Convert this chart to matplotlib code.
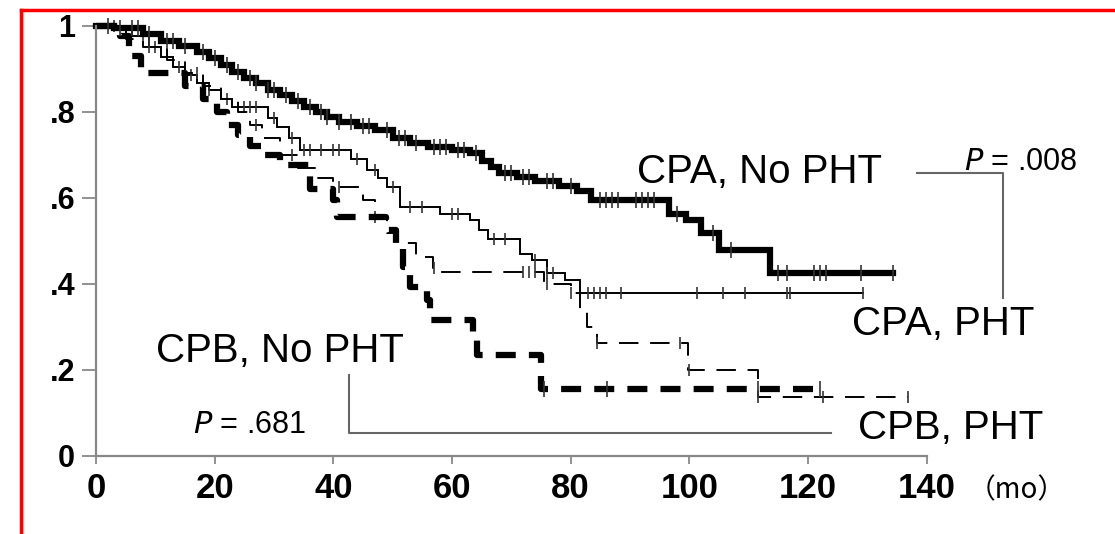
import numpy as np
import matplotlib
matplotlib.use("Agg")
import matplotlib.pyplot as plt
from matplotlib.lines import Line2D

plt.rcParams['font.family'] = ['Liberation Sans', 'DejaVu Sans']

# Kaplan-Meier curves: event times (months) and survival after each step
cpa_np_t = [0, 3, 8, 11, 14, 17, 19, 21, 23, 25, 27, 29, 31, 33, 35, 37, 39, 41, 44, 47,
            50, 53, 56, 60, 63, 65, 66.5, 68, 71, 74, 78, 81, 83.5, 96.5, 99.5, 102, 105, 113.6]
cpa_np_s = [1.0, 0.995, 0.98, 0.965, 0.952, 0.94, 0.925, 0.908, 0.893, 0.878, 0.866, 0.851,
            0.838, 0.825, 0.812, 0.8, 0.788, 0.776, 0.766, 0.757, 0.74, 0.728, 0.718, 0.71,
            0.703, 0.685, 0.671, 0.657, 0.648, 0.64, 0.628, 0.615, 0.594, 0.563, 0.548,
            0.517, 0.478, 0.424]
cpa_np_end = 134.4
cpa_np_cens = [2, 4, 6, 7, 9, 12, 13, 15, 18, 20, 22, 24, 26, 27, 29, 30, 32, 34, 36, 38, 39,
               41, 43, 45, 46, 49, 51, 52, 54, 57, 58, 59, 61, 62, 64, 69, 70, 72, 73, 76, 77,
               80, 85, 86, 87, 88, 91, 92, 93, 94, 98, 104, 107, 115, 116.5, 121, 122, 123,
               129, 134.4]

cpa_p_t = [0, 6, 9, 11, 13, 15, 17, 19, 21, 23, 29, 30.5, 32.5, 34.4, 43, 45.7, 47.5, 49,
           51.3, 58, 63, 64.5, 66, 71.5, 73.5, 76, 79, 81.6]
cpa_p_s = [1.0, 0.975, 0.95, 0.927, 0.904, 0.885, 0.866, 0.85, 0.83, 0.81, 0.785, 0.764,
           0.74, 0.71, 0.69, 0.664, 0.645, 0.625, 0.578, 0.563, 0.548, 0.525, 0.503, 0.47,
           0.455, 0.424, 0.408, 0.378]
cpa_p_end = 129.3
cpa_p_cens = [3, 8, 10, 14, 16, 19, 22, 25, 26, 27, 30, 33, 35, 36, 38, 40, 41, 44, 47, 50,
              53, 55, 60, 61, 67, 69, 74, 76, 77, 83, 84, 85, 86, 88.4, 101.3, 105.6, 109.4,
              116.5, 117, 129.2]

cpb_np_t = [0, 4, 5.5, 7.5, 15, 18, 20.4, 22, 24, 26, 28.5, 31, 36, 40, 40.6, 48.8, 50.5,
            51.8, 53, 55.8, 56.3, 63.6, 64.2, 75]
cpb_np_s = [1.0, 0.975, 0.93, 0.89, 0.86, 0.83, 0.80, 0.77, 0.745, 0.72, 0.70, 0.675, 0.62,
            0.594, 0.555, 0.524, 0.494, 0.44, 0.392, 0.362, 0.315, 0.285, 0.234, 0.155]
cpb_np_end = 122
cpb_np_cens = [75.5, 86.2, 111.5, 122]

cpb_p_t = [0, 5, 8, 12, 15, 18, 21, 24, 26, 28, 31, 34, 37, 40, 45, 47, 49, 50.8, 54, 56.8,
           57.5, 75.5, 80, 81.6, 82.8, 84.5, 99.8, 111.5]
cpb_p_s = [1.0, 0.97, 0.95, 0.92, 0.89, 0.86, 0.83, 0.80, 0.77, 0.74, 0.70, 0.67, 0.645,
           0.625, 0.594, 0.555, 0.517, 0.494, 0.463, 0.436, 0.427, 0.40, 0.378, 0.338, 0.30,
           0.262, 0.199, 0.136]
cpb_p_end = 136.8
cpb_p_cens = [9, 17, 27, 33, 41, 47, 57, 72, 73, 74, 76, 80, 84.5, 98.5, 100, 111.5, 122.6,
              136.8]

x_ticks = [0, 20, 40, 60, 80, 100, 120, 140]
y_ticks = [0, 0.2, 0.4, 0.6, 0.8, 1.0]
y_tick_labels = ['0', '.2', '.4', '.6', '.8', '1']


def km_curve(ax, t, s, end, cens, lw, dashes=None, ms=9):
    tt = list(t) + [end]
    ss = list(s) + [s[-1]]
    line, = ax.step(tt, ss, where='post', color='black', lw=lw, clip_on=False,
                    solid_joinstyle='miter')
    if dashes:
        line.set_dashes(dashes)
    # censor marks sit on the curve value at that time
    idx = np.searchsorted(t, cens, side='right') - 1
    ax.plot(cens, np.array(s)[idx], ls='none', marker='|', ms=ms, mew=1.2,
            color='#333333', clip_on=False)


fig = plt.figure(figsize=(11.15, 5.34), dpi=100)
ax = fig.add_axes([0.0861, 0.1466, 0.745, 0.8052])

km_curve(ax, cpa_p_t, cpa_p_s, cpa_p_end, cpa_p_cens, 1.4)
km_curve(ax, cpb_p_t, cpb_p_s, cpb_p_end, cpb_p_cens, 1.4, dashes=(10, 6))
km_curve(ax, cpb_np_t, cpb_np_s, cpb_np_end, cpb_np_cens, 4.5, dashes=(3.2, 2.1), ms=11)
km_curve(ax, cpa_np_t, cpa_np_s, cpa_np_end, cpa_np_cens, 4.5, ms=11)

ax.set_xlim(0, 140)
ax.set_ylim(0, 1)
ax.set_xticks(x_ticks)
ax.set_yticks(y_ticks)
ax.set_yticklabels(y_tick_labels)
for sp in ['top', 'right']:
    ax.spines[sp].set_visible(False)
for sp in ['left', 'bottom']:
    ax.spines[sp].set_color('#888888')
    ax.spines[sp].set_linewidth(1.6)
ax.spines['left'].set_bounds(0, 1)
ax.spines['bottom'].set_bounds(0, 140)
ax.tick_params(axis='x', direction='out', length=6, width=1.3, color='#888888', pad=6,
               labelsize=25)
ax.tick_params(axis='y', direction='out', length=10, width=1.3, color='#888888', pad=5,
               labelsize=22)
for lab in ax.get_xticklabels() + ax.get_yticklabels():
    lab.set_fontweight('bold')

# group labels and P-value brackets
txt = dict(fontsize=29, ha='center', va='center', clip_on=False)
ax.text(111.8, 0.66, 'CPA, No PHT', **txt)
ax.text(142.7, 0.307, 'CPA, PHT', **txt)
ax.text(31.0, 0.243, 'CPB, No PHT', **txt)
ax.text(144.1, 0.064, 'CPB, PHT', **txt)
ax.text(155.8, 0.683, r'$\it{P}$ = .008', fontsize=22, ha='center', va='center', clip_on=False)
ax.text(25.8, 0.071, r'$\it{P}$ = .681', fontsize=22, ha='center', va='center', clip_on=False)
ax.text(155.1, -0.08, '（mo）', fontsize=20, ha='center', va='center', clip_on=False,
        family=['Noto Sans CJK JP', 'DejaVu Sans'])

ax.plot([138.4, 152.8, 152.8], [0.657, 0.657, 0.367], color='#666666', lw=1.5, clip_on=False)
ax.plot([42.7, 42.7, 123.8], [0.188, 0.053, 0.053], color='#666666', lw=1.5, clip_on=False)

# red frame along the left and top
fig.add_artist(Line2D([21 / 1115, 21 / 1115], [0, 1 - 10 / 534], color='red', lw=2.5,
                      transform=fig.transFigure))
fig.add_artist(Line2D([21 / 1115, 1], [1 - 10 / 534, 1 - 10 / 534], color='red', lw=2.5,
                      transform=fig.transFigure))

fig.savefig('out.png', dpi=100)
